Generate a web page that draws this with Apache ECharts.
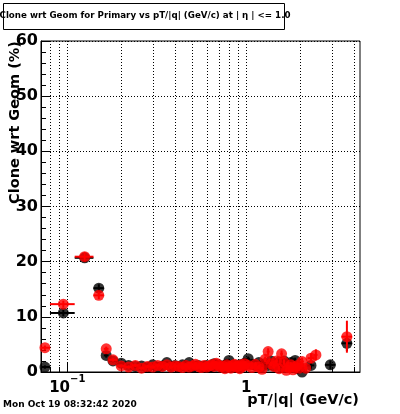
<!DOCTYPE html>
<html>
<head>
<meta charset="utf-8">
<script src="https://cdn.jsdelivr.net/npm/echarts@6/dist/echarts.min.js"></script>
<style>
html,body{margin:0;padding:0;background:#fff;}
#chart{width:400px;height:414px;}
</style>
</head>
<body>
<div id="chart"></div>
<script>
// ---- data (pT/|q| bin centres in GeV/c, clone rate in %) ----
const ptCenter = [
  0.075, 0.095, 0.125, 0.15, 0.165, 0.18,
  0.20, 0.22, 0.24, 0.26, 0.28, 0.30, 0.32, 0.34, 0.36, 0.38,
  0.40, 0.42, 0.44, 0.46, 0.48, 0.50, 0.52, 0.54, 0.56, 0.58,
  0.60, 0.62, 0.64, 0.66, 0.68, 0.70, 0.72, 0.74, 0.76, 0.78,
  0.80, 0.82, 0.84, 0.86, 0.88, 0.90, 0.92, 0.94, 0.96, 0.98,
  1.025, 1.075, 1.125, 1.175, 1.225, 1.275, 1.325, 1.375, 1.425, 1.475,
  1.525, 1.575, 1.625, 1.675, 1.725, 1.775, 1.825, 1.875, 1.925, 1.975,
  2.05, 2.15, 2.3, 2.45, 2.95, 3.65
];
const ptHalfWidth = [
  0.005, 0.015, 0.015, 0.01, 0.005, 0.01,
  0.01, 0.01, 0.01, 0.01, 0.01, 0.01, 0.01, 0.01, 0.01, 0.01,
  0.01, 0.01, 0.01, 0.01, 0.01, 0.01, 0.01, 0.01, 0.01, 0.01,
  0.01, 0.01, 0.01, 0.01, 0.01, 0.01, 0.01, 0.01, 0.01, 0.01,
  0.01, 0.01, 0.01, 0.01, 0.01, 0.01, 0.01, 0.01, 0.01, 0.01,
  0.025, 0.025, 0.025, 0.025, 0.025, 0.025, 0.025, 0.025, 0.025, 0.025,
  0.025, 0.025, 0.025, 0.025, 0.025, 0.025, 0.025, 0.025, 0.025, 0.025,
  0.05, 0.05, 0.1, 0.05, 0.2, 0.25
];
const blackClone = [
  0.9, 10.7, 20.7, 15.2, 3.0, 2.0,
  1.6, 1.2, 1.0, 1.1, 0.8, 1.3, 0.9, 1.1, 1.7, 1.0,
  1.2, 0.9, 1.3, 1.0, 1.7, 0.8, 1.1, 1.2, 0.9, 1.0,
  1.2, 0.8, 1.0, 1.5, 1.1, 1.3, 1.0, 0.8, 1.2, 1.4,
  2.1, 1.0, 0.9, 1.2, 1.1, 0.8, 1.3, 1.0, 1.2, 1.6,
  2.4, 1.4, 1.2, 1.7, 1.0, 1.5, 1.2, 2.0, 1.1, 1.3,
  1.8, 0.9, 2.0, 1.4, 1.0, 1.7, 0.8, 2.1, 0.6, 1.0,
  0.0, null, 1.2, null, 1.3, 5.2
];
const blackErr = [
  0.3, 0.6, 0.8, 0.7, 0.4, 0.3,
  0.3, 0.3, 0.3, 0.3, 0.3, 0.3, 0.3, 0.3, 0.3, 0.3,
  0.3, 0.3, 0.3, 0.3, 0.3, 0.3, 0.3, 0.3, 0.3, 0.3,
  0.3, 0.3, 0.3, 0.3, 0.3, 0.3, 0.3, 0.3, 0.3, 0.3,
  0.3, 0.3, 0.3, 0.3, 0.3, 0.3, 0.3, 0.3, 0.3, 0.3,
  0.4, 0.4, 0.4, 0.4, 0.4, 0.4, 0.4, 0.4, 0.4, 0.4,
  0.5, 0.5, 0.5, 0.5, 0.5, 0.5, 0.5, 0.5, 0.5, 0.5,
  0.6, null, 0.7, null, 0.8, 1.4
];
const redClone = [
  4.4, 12.3, 20.9, 13.9, 4.2, 2.2,
  1.1, 0.9, 1.2, 0.7, 1.0, 0.9, 1.2, 1.0, 1.3, 0.9,
  1.1, 1.0, 0.8, 1.2, 0.9, 1.1, 1.4, 1.0, 0.8, 1.2,
  0.9, 1.1, 1.3, 1.0, 1.6, 1.2, 0.9, 1.1, 0.6, 1.3,
  1.0, 0.7, 1.2, 1.4, 0.9, 1.1, 0.6, 1.3, 1.0, 1.5,
  1.2, 0.8, 1.4, 0.9, 0.5, 2.3, 3.7, 1.5, 1.0, 2.0,
  0.6, 3.3, 1.8, 0.3, 0.8, 1.3, 0.4, 0.9, 1.2, 0.7,
  1.9, 0.7, 2.5, 3.1, null, 6.4
];
const redErr = [
  0.4, 0.6, 0.8, 0.7, 0.4, 0.3,
  0.3, 0.3, 0.3, 0.3, 0.3, 0.3, 0.3, 0.3, 0.3, 0.3,
  0.3, 0.3, 0.3, 0.3, 0.3, 0.3, 0.3, 0.3, 0.3, 0.3,
  0.3, 0.3, 0.3, 0.3, 0.3, 0.3, 0.3, 0.3, 0.3, 0.3,
  0.3, 0.3, 0.3, 0.3, 0.3, 0.3, 0.3, 0.3, 0.3, 0.3,
  0.4, 0.4, 0.4, 0.4, 0.4, 0.5, 0.6, 0.4, 0.4, 0.5,
  0.5, 0.6, 0.5, 0.5, 0.5, 0.5, 0.5, 0.5, 0.5, 0.5,
  0.7, 0.6, 0.9, 1.0, null, 2.9
];
const xGridTicks = [0.08, 0.09, 0.1, 0.2, 0.3, 0.4, 0.5, 0.6, 0.7, 0.8, 0.9, 1, 2, 3, 4];
const xMajorTicks = [0.1, 1];
const X_MIN = 0.0713, X_MAX = 4.32;
const Y_MIN = 0, Y_MAX = 60, Y_STEP = 10;

const titleText = 'Clone wrt Geom for Primary vs pT/|q| (GeV/c) at | η | <= 1.0';
const yTitle = 'Clone wrt Geom (%)';
const xTitle = 'pT/|q| (GeV/c)';
const dateText = 'Mon Oct 19 08:32:42 2020';

const FONT = 'DejaVu Sans';

function build(vals, errs) {
  const out = [];
  for (let i = 0; i < ptCenter.length; i++) {
    if (vals[i] === null) continue;
    out.push([ptCenter[i], vals[i], ptHalfWidth[i], errs[i] || 0]);
  }
  return out;
}
const blackData = build(blackClone, blackErr);
const redData = build(redClone, redErr);

function errRenderer(color) {
  return function (params, api) {
    const x = api.value(0), y = api.value(1), hw = api.value(2), e = api.value(3);
    const l = api.coord([x - hw, y]), r = api.coord([x + hw, y]);
    const t = api.coord([x, Math.min(Y_MAX, y + e)]), b = api.coord([x, Math.max(Y_MIN, y - e)]);
    return {
      type: 'group',
      children: [
        { type: 'line', shape: { x1: l[0], y1: l[1], x2: r[0], y2: r[1] }, style: { stroke: color, lineWidth: 2 } },
        { type: 'line', shape: { x1: t[0], y1: t[1], x2: b[0], y2: b[1] }, style: { stroke: color, lineWidth: 2 } }
      ]
    };
  };
}

function gridRenderer(params, api) {
  const v = api.value(0);
  const top = api.coord([v, Y_MAX]), bot = api.coord([v, Y_MIN]);
  const x = Math.round(top[0]) + 0.5;
  const major = xMajorTicks.some(m => Math.abs(m - v) < 1e-9);
  const len = major ? 10 : 5;
  return {
    type: 'group',
    children: [
      { type: 'line', shape: { x1: x, y1: top[1], x2: x, y2: bot[1] }, style: { stroke: '#000', lineWidth: 1, lineDash: [1, 2] } },
      { type: 'line', shape: { x1: x, y1: bot[1], x2: x, y2: bot[1] - len }, style: { stroke: '#000', lineWidth: 1 } }
    ]
  };
}

const chart = echarts.init(document.getElementById('chart'), null, { renderer: 'canvas' });
chart.setOption({
  animation: false,
  backgroundColor: '#fff',
  textStyle: { fontFamily: FONT },
  grid: {
    left: 41, right: 40, top: 41, bottom: 42,
    show: true, borderColor: '#000', borderWidth: 1, backgroundColor: 'transparent',
    outerBoundsMode: 'none'
  },
  xAxis: {
    type: 'log', logBase: 10, min: X_MIN, max: X_MAX,
    axisLine: { show: true, lineStyle: { color: '#000', width: 1 } },
    axisTick: { show: false },
    minorTick: { show: false },
    splitLine: { show: false },
    axisLabel: {
      show: true, margin: 2, color: '#000', showMinLabel: false, showMaxLabel: false,
      formatter: function (v) {
        if (Math.abs(v - 0.1) < 1e-6) return '{b|10}{s|−1}';
        if (Math.abs(v - 1) < 1e-6) return '{b|1}';
        return '';
      },
      rich: {
        b: { fontFamily: FONT, fontWeight: 'bold', fontSize: 15, lineHeight: 22, verticalAlign: 'bottom', color: '#000' },
        s: { fontFamily: FONT, fontWeight: 'bold', fontSize: 10, lineHeight: 10, verticalAlign: 'top', color: '#000' }
      }
    }
  },
  yAxis: {
    type: 'value', min: Y_MIN, max: Y_MAX, interval: Y_STEP,
    axisLine: { show: true, lineStyle: { color: '#000', width: 1 } },
    axisTick: { show: true, inside: true, length: 9, lineStyle: { color: '#000' } },
    minorTick: { show: true, splitNumber: 5, length: 5, lineStyle: { color: '#000' } },
    splitLine: { show: true, lineStyle: { color: '#000', width: 1, type: [1, 2] } },
    axisLabel: { color: '#000', fontFamily: FONT, fontWeight: 'bold', fontSize: 16, margin: 3 }
  },
  graphic: [
    { type: 'rect', left: 3, top: 3, shape: { width: 281, height: 26 }, style: { fill: '#fff', stroke: '#000', lineWidth: 1 }, z: 10 },
    { type: 'text', x: 145, y: 16, z: 11,
      style: { text: titleText, fill: '#000', font: 'bold 8.7px "DejaVu Sans"', textAlign: 'center', textVerticalAlign: 'middle' } },
    { type: 'text', x: 15, y: 41, rotation: Math.PI / 2, z: 11,
      style: { text: yTitle, fill: '#000', font: 'bold 14.5px "DejaVu Sans"', textAlign: 'right', textVerticalAlign: 'middle' } },
    { type: 'text', x: 359, y: 400, z: 11,
      style: { text: xTitle, fill: '#000', font: 'bold 14.5px "DejaVu Sans"', textAlign: 'right', textVerticalAlign: 'middle' } },
    { type: 'text', x: 3, y: 405, z: 11,
      style: { text: dateText, fill: '#000', font: 'bold 9px "DejaVu Sans"', textAlign: 'left', textVerticalAlign: 'middle' } }
  ],
  series: [
    { name: 'grid', type: 'custom', renderItem: gridRenderer, data: xGridTicks.map(v => [v, Y_MIN]),
      encode: { x: 0, y: 1 }, z: 1, silent: true, clip: false },
    { name: 'black err', type: 'custom', renderItem: errRenderer('#000'), data: blackData,
      encode: { x: 0, y: 1 }, z: 2, clip: true },
    { name: 'black', type: 'scatter', symbol: 'circle', symbolSize: 11, itemStyle: { color: '#000' },
      data: blackData.map(d => [d[0], d[1]]), z: 3, clip: false },
    { name: 'red err', type: 'custom', renderItem: errRenderer('#ff0000'), data: redData,
      encode: { x: 0, y: 1 }, z: 4, clip: true },
    { name: 'red', type: 'scatter', symbol: 'circle', symbolSize: 11, itemStyle: { color: '#ff0000' },
      data: redData.map(d => [d[0], d[1]]), z: 5, clip: false }
  ]
});
</script>
</body>
</html>
